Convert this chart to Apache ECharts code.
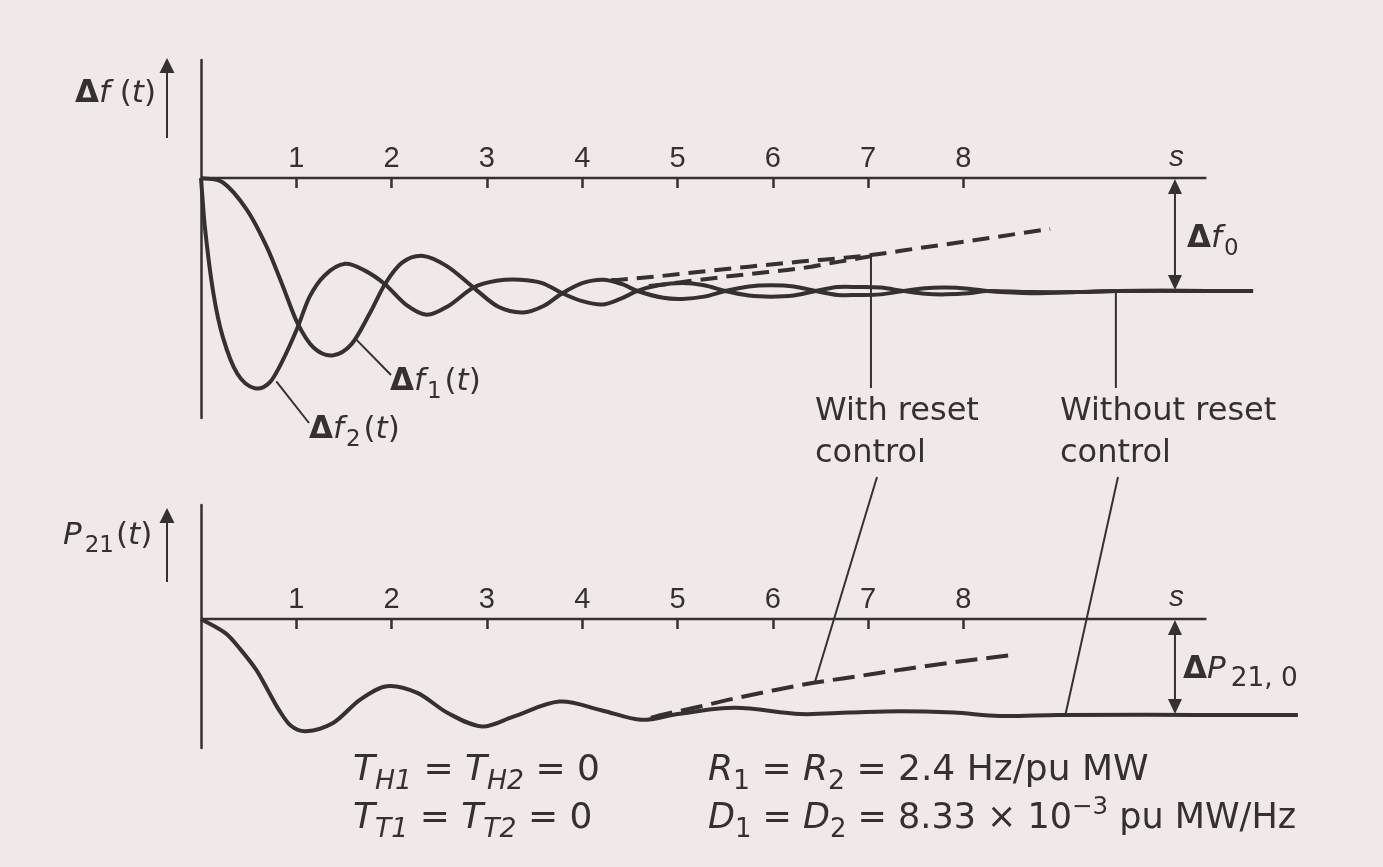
<!DOCTYPE html>
<html>
<head>
<meta charset="utf-8">
<title>Two-area load frequency response</title>
<script src="https://cdn.jsdelivr.net/npm/echarts@6/dist/echarts.min.js"></script>
<style>
  html, body { margin: 0; padding: 0; background: #f1e9e9; }
  #chart { width: 1383px; height: 867px; }
</style>
</head>
<body>
<div id="chart"></div>
<script>
// Time axis ticks (s)
const tickLabels = [1, 2, 3, 4, 5, 6, 7, 8];

// Frequency deviations, in units of the steady-state drop Δf0 (time s, value)
const df1 = [[0,0],[0.23,-0.04],[0.48,-0.28],[0.69,-0.61],[0.86,-0.96],[1.01,-1.28],[1.18,-1.50],[1.38,-1.57],
  [1.58,-1.47],[1.77,-1.20],[1.93,-0.94],[2.11,-0.75],[2.33,-0.69],[2.58,-0.78],[2.86,-0.97],[3.12,-1.14],
  [3.38,-1.19],[3.6,-1.13],[3.79,-1.02],[4.0,-0.93],[4.22,-0.90],[4.42,-0.94],[4.58,-1.0],[4.85,-1.06],
  [5.05,-1.07],[5.28,-1.05],[5.5,-1.0],[5.75,-0.96],[5.98,-0.95],[6.22,-0.96],[6.45,-1.0],[6.68,-1.035],
  [6.9,-1.035],[7.13,-1.03],[7.37,-1.0],[7.6,-0.975],[7.82,-0.97],[8.05,-0.98],[8.25,-1.0],[8.7,-1.02],
  [9.2,-1.01],[9.6,-1.0],[11.04,-1.0]];
const df2 = [[0,0],[0.04,-0.43],[0.13,-1.02],[0.23,-1.41],[0.38,-1.73],[0.56,-1.86],[0.72,-1.81],[0.86,-1.61],
  [1.01,-1.33],[1.14,-1.05],[1.3,-0.86],[1.51,-0.76],[1.72,-0.82],[1.93,-0.94],[2.15,-1.12],[2.37,-1.21],
  [2.6,-1.13],[2.86,-0.97],[3.1,-0.91],[3.35,-0.90],[3.58,-0.93],[3.79,-1.02],[4.0,-1.09],[4.21,-1.12],
  [4.4,-1.07],[4.58,-1.0],[4.8,-0.95],[5.05,-0.93],[5.28,-0.95],[5.5,-1.0],[5.75,-1.04],[5.98,-1.05],
  [6.22,-1.04],[6.45,-1.0],[6.68,-0.965],[6.9,-0.965],[7.13,-0.97],[7.37,-1.0],[7.6,-1.025],[7.82,-1.03],
  [8.05,-1.02],[8.25,-1.0],[8.7,-1.01],[9.2,-1.01],[9.6,-1.0],[11.04,-1.0]];
// With reset (integral) control the deviations drift back toward zero
const df1Reset = [[4.3,-0.905],[4.4,-0.90],[4.8,-0.87],[5.24,-0.83],[5.75,-0.785],[6.29,-0.74],
  [6.7,-0.71],[7.05,-0.68],[7.5,-0.625],[8.2,-0.54],[8.91,-0.45]];
const df2Reset = [[4.7,-0.955],[4.78,-0.95],[5.24,-0.90],[5.75,-0.85],[6.29,-0.80],[6.7,-0.74],[7.05,-0.69]];

// Tie-line power, in units of ΔP21,0
const p21 = [[0,0],[0.26,-0.15],[0.4,-0.30],[0.58,-0.53],[0.70,-0.74],[0.82,-0.95],[0.94,-1.11],[1.1,-1.17],
  [1.39,-1.08],[1.67,-0.84],[1.95,-0.70],[2.27,-0.77],[2.59,-0.98],[2.95,-1.12],[3.27,-1.02],[3.76,-0.86],
  [4.2,-0.95],[4.62,-1.05],[5.0,-0.99],[5.6,-0.925],[6.29,-0.99],[6.8,-0.975],[7.33,-0.96],[7.9,-0.975],
  [8.38,-1.01],[9.0,-1.0],[11.51,-1.0]];
const p21Reset = [[4.72,-1.03],[4.83,-1.0],[5.2,-0.92],[5.59,-0.83],[6.0,-0.745],[6.43,-0.665],[6.9,-0.595],
  [7.33,-0.53],[7.9,-0.45],[8.56,-0.37]];

const INK = '#363131';
const SANS = '"DejaVu Sans"';
const AXISFONT = '"Liberation Sans"';
const T_MAX = 11.6;      // plotted time range
const AXIS_END = 10.55;  // where the drawn time axis stops

// axis carrying the ticks, sitting on the zero line
function tickAxis(i) {
  return {
    gridIndex: i, type: 'value', min: 0, max: T_MAX, position: 'top',
    axisLine: { show: true, onZero: true, lineStyle: { color: INK, width: 2.5, opacity: 0 } },
    axisTick: { show: true, inside: true, length: 10, customValues: tickLabels, lineStyle: { color: INK, width: 2.5 } },
    axisLabel: { show: false },
    splitLine: { show: false }
  };
}
// companion axis carrying the numbers just above the zero line
function labelAxis(i, offset) {
  return {
    gridIndex: i, type: 'value', min: 0, max: T_MAX, position: 'top', offset: offset,
    axisLine: { show: false }, axisTick: { show: false },
    axisLabel: { show: true, customValues: tickLabels, margin: 5, color: INK, fontSize: 29, fontFamily: AXISFONT },
    splitLine: { show: false }
  };
}
function yAxisFor(i, min, max) {
  return {
    gridIndex: i, type: 'value', min: min, max: max,
    axisLine: { show: true, lineStyle: { color: INK, width: 2.5 } },
    axisTick: { show: false }, axisLabel: { show: false }, splitLine: { show: false }
  };
}

// smooth curve through the pixel positions of the points (cubic Hermite in x, C1 continuous)
function smoothPath(pts) {
  const n = pts.length;
  const m = pts.map((p, i) => {
    const a = pts[Math.max(0, i - 1)], b = pts[Math.min(n - 1, i + 1)];
    return (b[1] - a[1]) / (b[0] - a[0]);
  });
  let d = 'M' + pts[0][0] + ',' + pts[0][1];
  for (let i = 0; i < n - 1; i++) {
    const h = pts[i + 1][0] - pts[i][0];
    d += ' C' + (pts[i][0] + h / 3) + ',' + (pts[i][1] + m[i] * h / 3) + ' ' +
      (pts[i + 1][0] - h / 3) + ',' + (pts[i + 1][1] - m[i + 1] * h / 3) + ' ' +
      pts[i + 1][0] + ',' + pts[i + 1][1];
  }
  return d;
}
function curve(idx, data, dash, z) {
  return {
    type: 'custom', xAxisIndex: idx, yAxisIndex: idx, data: data, clip: false, silent: true, z: z,
    renderItem: function (params, api) {
      if (params.dataIndex !== 0) return null;
      const pts = data.map(d => api.coord(d));
      return {
        type: 'path', shape: { pathData: smoothPath(pts) },
        style: { fill: 'none', stroke: INK, lineWidth: 4, lineDash: dash || null, lineCap: 'butt' }
      };
    }
  };
}

const GRID_W = T_MAX * 95.3;
const chart = echarts.init(document.getElementById('chart'));
chart.setOption({
  animation: false,
  backgroundColor: '#f1e9e9',
  grid: [
    { left: 201, top: 60, width: GRID_W, height: 358 },
    { left: 201, top: 505, width: GRID_W, height: 243 }
  ],
  xAxis: [tickAxis(0), tickAxis(1), labelAxis(0, -118), labelAxis(1, -114)],
  yAxis: [yAxisFor(0, -2.124, 1.044), yAxisFor(1, -1.344, 1.1875)],
  series: [
    curve(0, df1, null, 2),
    curve(0, df2, null, 2),
    curve(0, df1Reset, [17, 9], 3),
    curve(0, df2Reset, [17, 9], 3),
    curve(1, p21, null, 2),
    curve(1, p21Reset, [22, 9], 3)
  ]
});

// ---- annotations ----
const ctx = document.createElement('canvas').getContext('2d');
const px0 = p => chart.convertToPixel({ gridIndex: 0 }, p);
const px1 = p => chart.convertToPixel({ gridIndex: 1 }, p);
const els = [];

function fontOf(size, it, b, fam) {
  return (it ? 'italic ' : '') + (b ? 'bold ' : '') + size + 'px ' + fam;
}
// lays out a run of text pieces on a common baseline (subscripts / superscripts shifted)
function textRun(x, baseline, size, segs, fam) {
  fam = fam || SANS;
  let cx = x;
  segs.forEach(s => {
    const small = s.sub || s.sup;
    const sz = small ? size * (s.k || 0.74) : size;
    const f = fontOf(sz, s.it, s.b, fam);
    cx += s.dx || 0;
    const bl = baseline + (s.sub ? size * 0.24 : s.sup ? -size * 0.42 : 0);
    els.push({
      type: 'text', x: cx, y: bl - 0.346 * sz, silent: true, z: 10,
      style: { text: s.t, font: f, fill: INK, align: 'left', verticalAlign: 'middle' }
    });
    ctx.font = f;
    cx += ctx.measureText(s.t).width;
  });
}
function seg(a, b, w) {
  els.push({ type: 'line', silent: true, z: 5,
    shape: { x1: a[0], y1: a[1], x2: b[0], y2: b[1] }, style: { stroke: INK, lineWidth: w || 2 } });
}
function head(x, tipY, dir, w, h) {
  els.push({ type: 'polygon', silent: true, z: 6,
    shape: { points: [[x, tipY], [x - w / 2, tipY + dir * h], [x + w / 2, tipY + dir * h]] },
    style: { fill: INK } });
}

// time axes, drawn up to the unit mark
seg(px0([0, 0]), px0([AXIS_END, 0]), 2.5);
seg(px1([0, 0]), px1([AXIS_END, 0]), 2.5);

// axis arrows beside the quantity names
seg([167, 138], [167, 70]); head(167, 58, 1, 15, 15);
seg([167, 582], [167, 520]); head(167, 508, 1, 15, 15);

// steady-state deviation markers
const a0 = px0([10.22, 0]), a1 = px0([10.22, -1]);
seg([a0[0], a0[1] + 12], [a1[0], a1[1] - 12]);
head(a0[0], a0[1] + 1, 1, 14, 15); head(a1[0], a1[1] - 1, -1, 14, 15);
const b0 = px1([10.22, 0]), b1 = px1([10.22, -1]);
seg([b0[0], b0[1] + 12], [b1[0], b1[1] - 12]);
head(b0[0], b0[1] + 1, 1, 14, 15); head(b1[0], b1[1] - 1, -1, 14, 15);

// unit labels at the time axes
textRun(1169, 168, 30, [{ t: 's', it: true }], AXISFONT);
textRun(1169, 608, 30, [{ t: 's', it: true }], AXISFONT);

// quantity names
textRun(75, 105, 31, [{ t: 'Δ', b: true }, { t: 'f', it: true }, { t: ' ' }, { t: '(' }, { t: 't', it: true }, { t: ')' }]);
textRun(63, 547, 31, [{ t: 'P', it: true }, { t: '21', sub: true, dx: 3 }, { t: '(', dx: 2 }, { t: 't', it: true }, { t: ')' }]);
textRun(1187, 250, 31, [{ t: 'Δ', b: true }, { t: 'f', it: true }, { t: '0', sub: true, dx: 2 }]);
textRun(1183, 681, 31, [{ t: 'Δ', b: true }, { t: 'P', it: true }, { t: '21, 0', sub: true, dx: 5, k: 0.85 }]);

// curve names with leader lines
seg(px0([1.63, -1.43]), [391, 375]);
textRun(390, 393, 31, [{ t: 'Δ', b: true }, { t: 'f', it: true }, { t: '1', sub: true, dx: 2 }, { t: '(', dx: 3 }, { t: 't', it: true }, { t: ')' }]);
seg(px0([0.79, -1.8]), [309, 423]);
textRun(309, 441, 31, [{ t: 'Δ', b: true }, { t: 'f', it: true }, { t: '2', sub: true, dx: 2 }, { t: '(', dx: 3 }, { t: 't', it: true }, { t: ')' }]);

// control-mode callouts
const wr = px0([7.03, -0.675]);
seg(wr, [wr[0], 388]);
seg([877, 477], px1([6.44, -0.665]));
textRun(815, 423, 32, [{ t: 'With reset' }]);
textRun(815, 465, 32, [{ t: 'control' }]);
const wo = px0([9.6, -1.0]);
seg(wo, [wo[0], 388]);
seg([1118, 477], px1([9.07, -1.0]));
textRun(1060, 423, 32, [{ t: 'Without reset' }]);
textRun(1060, 465, 32, [{ t: 'control' }]);

// system parameters
textRun(353, 783, 36, [{ t: 'T', it: true }, { t: 'H1', sub: true, it: true }, { t: ' = ' }, { t: 'T', it: true }, { t: 'H2', sub: true, it: true }, { t: ' = 0' }]);
textRun(353, 831, 36, [{ t: 'T', it: true }, { t: 'T1', sub: true, it: true }, { t: ' = ' }, { t: 'T', it: true }, { t: 'T2', sub: true, it: true }, { t: ' = 0' }]);
textRun(708, 783, 36, [{ t: 'R', it: true }, { t: '1', sub: true }, { t: ' = ' }, { t: 'R', it: true }, { t: '2', sub: true }, { t: ' = 2.4 Hz/pu MW' }]);
textRun(708, 831, 35, [{ t: 'D', it: true }, { t: '1', sub: true }, { t: ' = ' }, { t: 'D', it: true }, { t: '2', sub: true }, { t: ' = 8.33 × 10' }, { t: '−3', sup: true, k: 0.7 }, { t: ' pu MW/Hz' }]);

chart.setOption({ graphic: { elements: els } });
</script>
</body>
</html>
